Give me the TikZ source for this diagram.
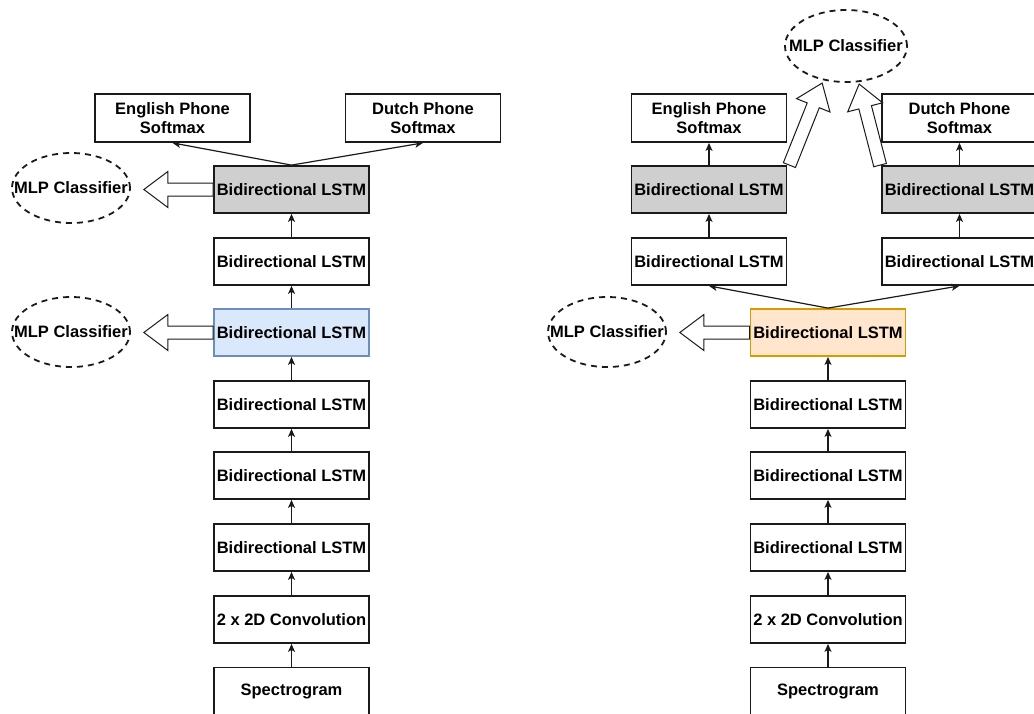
\documentclass[tikz,border=0pt]{standalone}
\usepackage{fontspec}
\setmainfont{Liberation Sans}
\usetikzlibrary{arrows.meta,calc,shapes.geometric}

\definecolor{grayfill}{HTML}{CFCFCF}
\definecolor{bluefill}{HTML}{DAE8FC}
\definecolor{bluedraw}{HTML}{6C8EBF}
\definecolor{orangefill}{HTML}{FFE6CC}
\definecolor{orangedraw}{HTML}{D79B00}
\definecolor{ink}{HTML}{1A1A1A}

\tikzset{
  txt/.style={font=\fontsize{16.5}{19}\selectfont\bfseries, text=black},
  layer/.style={draw=ink, line width=1.8pt, fill=white, minimum width=155pt,
    minimum height=47pt, inner sep=0pt, align=center, txt},
  frozen/.style={layer, fill=grayfill},
  probed/.style={layer, fill=bluefill, draw=bluedraw},
  shared/.style={layer, fill=orangefill, draw=orangedraw},
  softmaxbox/.style={layer, minimum height=48pt},
  classifier/.style={ellipse, draw=ink, line width=1.8pt, dash pattern=on 6pt off 5pt,
    minimum width=118pt, minimum height=70pt, inner sep=0pt,
    label={[txt, inner sep=0pt]center:MLP Classifier}},
  flow/.style={draw=ink, line width=1.2pt, -{Stealth[length=8pt,width=7pt,inset=2pt]}},
  hollow/.style={draw=ink, line width=1pt, fill=white, line join=miter},
}

% open block arrow from #1 to #2 (shaft half-width 6.5pt, head 24pt long, 18pt half-width)
\newcommand\hollowarrow[2]{%
  \coordinate (ha-base) at ($(#2)!24pt!(#1)$);
  \draw[hollow] ($(#1)!6.5pt!90:(#2)$) -- ($(ha-base)!6.5pt!90:(#2)$)
    -- ($(ha-base)!18pt!90:(#2)$) -- (#2) -- ($(ha-base)!18pt!-90:(#2)$)
    -- ($(ha-base)!6.5pt!-90:(#2)$) -- ($(#1)!6.5pt!-90:(#2)$) -- cycle;
}

\begin{document}
\begin{tikzpicture}[x=1pt,y=-1pt]
\useasboundingbox (0,0) rectangle (1034,713);
\clip (0,0) rectangle (1034,713);

% ---------------- left network: one shared stack, two softmax heads ----------------
\node[softmaxbox] (enL) at (172.5,118) {English Phone\\Softmax};
\node[softmaxbox] (nlL) at (423,118) {Dutch Phone\\Softmax};
\node[frozen] (L1) at (291.5,189.5) {Bidirectional LSTM};
\node[layer]  (L2) at (291.5,261.5) {Bidirectional LSTM};
\node[probed] (L3) at (291.5,332.5) {Bidirectional LSTM};
\node[layer]  (L4) at (291.5,404.5) {Bidirectional LSTM};
\node[layer]  (L5) at (291.5,475.5) {Bidirectional LSTM};
\node[layer]  (L6) at (291.5,547.5) {Bidirectional LSTM};
\node[layer]  (L7) at (291.5,619.5) {2 x 2D Convolution};
\node[layer]  (L8) at (291.5,691) {Spectrogram};

\draw[flow] (L8) -- (L7);
\draw[flow] (L7) -- (L6);
\draw[flow] (L6) -- (L5);
\draw[flow] (L5) -- (L4);
\draw[flow] (L4) -- (L3);
\draw[flow] (L3) -- (L2);
\draw[flow] (L2) -- (L1);
\draw[flow] (L1.north) -- (enL.south);
\draw[flow] (L1.north) -- (nlL.south);

\node[classifier] (mlpA) at (71,188) {};
\node[classifier] (mlpB) at (71,332) {};
\coordinate (tipA) at ($(mlpA.east)+(13,1.5)$);
\coordinate (tipB) at ($(mlpB.east)+(13,0.5)$);
\hollowarrow{L1.west}{tipA}
\hollowarrow{L3.west}{tipB}

% ---------------- right network: shared trunk, language-specific branches ----------------
\node[shared] (R3) at (828,332.5) {Bidirectional LSTM};
\node[layer]  (R4) at (828,404.5) {Bidirectional LSTM};
\node[layer]  (R5) at (828,475.5) {Bidirectional LSTM};
\node[layer]  (R6) at (828,547.5) {Bidirectional LSTM};
\node[layer]  (R7) at (828,619.5) {2 x 2D Convolution};
\node[layer]  (R8) at (828,691) {Spectrogram};

\node[layer]      (RA2) at (709,261.5) {Bidirectional LSTM};
\node[frozen]     (RA1) at (709,189.5) {Bidirectional LSTM};
\node[softmaxbox] (enR) at (709,118) {English Phone\\Softmax};
\node[layer]      (RB2) at (959.5,261.5) {Bidirectional LSTM};
\node[frozen]     (RB1) at (959.5,189.5) {Bidirectional LSTM};
\node[softmaxbox] (nlR) at (959.5,118) {Dutch Phone\\Softmax};

\draw[flow] (R8) -- (R7);
\draw[flow] (R7) -- (R6);
\draw[flow] (R6) -- (R5);
\draw[flow] (R5) -- (R4);
\draw[flow] (R4) -- (R3);
\draw[flow] (R3.north) -- (RA2.south);
\draw[flow] (R3.north) -- (RB2.south);
\draw[flow] (RA2) -- (RA1);
\draw[flow] (RA1) -- (enR);
\draw[flow] (RB2) -- (RB1);
\draw[flow] (RB1) -- (nlR);

\node[classifier] (mlpC) at (607,332) {};
\node[classifier, minimum width=122pt, minimum height=72pt] (mlpR) at (846,46) {};
\coordinate (tipC) at ($(mlpC.east)+(13,0.5)$);
\hollowarrow{R3.west}{tipC}

\coordinate (tipR1) at ($(mlpR.-125)+(0,3)$);
\coordinate (tipR2) at ($(mlpR.-70)+(0,2)$);
\coordinate (baseR1) at ($(RA1.north east)+(2,0)$);
\coordinate (baseR2) at ($(RB1.north west)+(-1,0)$);
\hollowarrow{baseR1}{tipR1}
\hollowarrow{baseR2}{tipR2}
\end{tikzpicture}
\end{document}
